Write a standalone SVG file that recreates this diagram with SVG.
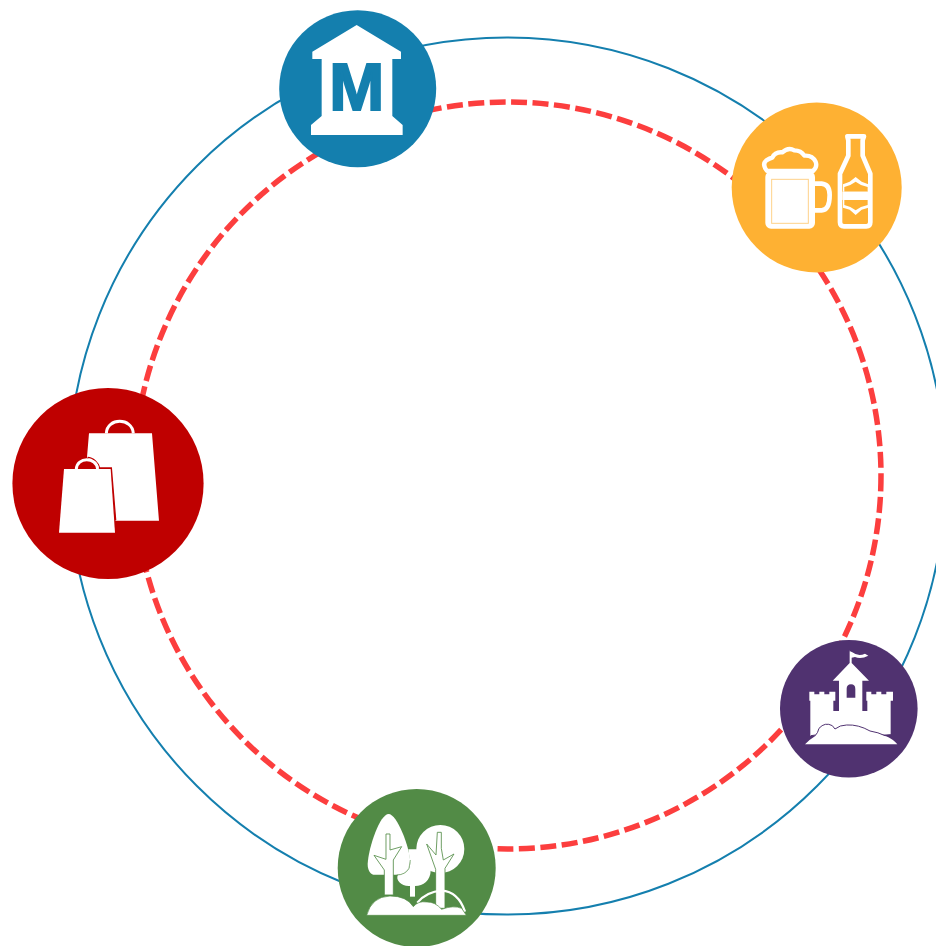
<svg xmlns="http://www.w3.org/2000/svg" width="936" height="946" viewBox="0 0 936 946">
<style>
.w{fill:#fff}
.ring{fill:none;stroke:#147fae;stroke-width:2}
.dash{fill:none;stroke:#fc3e3e;stroke-width:5.5;stroke-dasharray:16 5.5}
</style>
<rect width="936" height="946" fill="#fff"/>
<g id="connectors">
<circle class="ring" cx="507" cy="476" r="438.5"/>
<circle class="dash" cx="507.5" cy="475.5" r="373.5"/>
</g>
<g id="museum">
<circle cx="357.7" cy="88.7" r="78.5" fill="#147fae"/>
<path class="w" transform="translate(270 0) scale(.3333)" d="M260 75L393 155V177H367V348L398 375V405H123V375L155 348V177H127V155Z"/>
<text x="356.7" y="110" font-family="'Liberation Sans',Arial,sans-serif" font-weight="700" font-size="66" text-anchor="middle" fill="#147fae" stroke="#147fae" stroke-width="2">M</text>
</g>
<g id="beer">
<circle cx="816.7" cy="187.5" r="85" fill="#feb133"/>
<g transform="translate(725 95) scale(.3333)">
<rect x="128" y="236" width="135" height="158" rx="10" fill="#fff" stroke="#fff" stroke-width="14"/>
<rect x="140" y="253" width="110" height="132" fill="none" stroke="#fed28a" stroke-width="3"/>
<path d="M268 266H290Q314 268 314 300Q314 345 290 346H268" fill="none" stroke="#fff" stroke-width="14"/>
<path d="M126 228Q110 208 124 196Q134 190 142 188Q150 170 172 172Q190 156 208 166Q228 166 238 182Q262 180 272 200Q278 216 264 228Z" fill="#feb133" stroke="#fff" stroke-width="13" stroke-linejoin="round"/>
<path d="M367 124H417L413 136V182L436 236V382Q436 394 424 394H357Q345 394 345 382V236L370 182V136Z" fill="#feb133" stroke="#fff" stroke-width="14" stroke-linejoin="round"/>
<path d="M354 290V268L374 260L392 246L410 260L430 268V290Z" fill="#fff"/>
<path d="M358 290V276L376 270L392 260L408 270L428 276V290Z" fill="#feb133"/>
<rect x="352" y="290" width="80" height="25" fill="#fff"/>
<path d="M354 315V338L374 344L392 360L410 344L430 338V315Z" fill="#fff"/>
<path d="M358 315V330L376 336L392 346L408 336L428 330V315Z" fill="#feb133"/>
</g>
</g>
<g id="shopping">
<circle cx="108" cy="483.5" r="95.6" fill="#bf0000"/>
<g transform="translate(5 380) scale(.3333)">
<path class="w" d="M252 160H441L462 422H332L319 264H283L246 232Z"/>
<path d="M304 160C306 112 382 112 385 160" fill="none" stroke="#fff" stroke-width="9"/>
<path d="M248 232C264 232 282 250 284 264H319L332 420" fill="none" stroke="#bf0000" stroke-width="4"/>
<path class="w" d="M177 267H317L330 458H162Z"/>
<path d="M214 267C216 230 274 230 278 267" fill="none" stroke="#fff" stroke-width="9"/>
</g>
</g>
<g id="castle">
<circle cx="848.8" cy="708.7" r="68.8" fill="#503270"/>
<g transform="translate(775 635) scale(.3333)">
<path class="w" d="M222 47L232 52Q250 66 270 56L280 62Q258 74 240 66L230 68V84L282 137H262V228H277V197H274V170H289V178H304V170H319V178H334V170H354V197H347V298L300 300H130L106 302V197H103V170H118V178H133V170H148V178H163V170H181V197H175V228H192V137H173L224 84V47Z"/>
<path d="M215 188V162Q215 148 228 148Q241 148 241 162V188Z" fill="#503270"/>
<path class="w" d="M90 328Q105 312 122 302Q128 295 132 280Q150 260 172 272L180 282Q195 270 215 270Q250 268 285 288Q310 292 330 302Q355 312 367 328Z"/>
<path d="M108 302L122 300Q128 295 132 280Q150 260 172 272L180 282Q195 270 215 270Q250 268 285 288Q310 292 330 302L347 300" fill="none" stroke="#503270" stroke-width="3"/>
</g>
</g>
<g id="park">
<circle cx="416.7" cy="868" r="79" fill="#528b46"/>
<g transform="translate(330 780) scale(.3333)">
<path class="w" d="M176 102C200 102 240 200 241 250C240 272 225 284 205 284H130C120 282 113 270 113 252C116 200 150 102 176 102Z"/>
<path class="w" d="M204 284C195 300 215 320 240 318H255C280 318 302 300 302 272C300 240 280 210 260 208H235L241 250C240 272 225 284 204 284Z"/>
<path d="M200 285Q225 285 237 265L241 240" fill="none" stroke="#528b46" stroke-width="2"/>
<circle class="w" cx="331" cy="207" r="72"/>
<path d="M168 162H180V210L215 200L190 240V345H163V270L132 226L168 238Z" fill="#fff" stroke="#528b46" stroke-width="2.5"/>
<path d="M322 157H334V205L340 240L372 222L345 265V385H317V268L290 192L318 225Z" fill="#fff" stroke="#528b46" stroke-width="2.5"/>
<path d="M240 318V350H255V318Z" fill="#fff"/>
<path d="M262 368Q290 335 335 332Q385 335 405 395" fill="none" stroke="#fff" stroke-width="7"/>
<path d="M110 406Q125 350 180 348Q230 348 250 380Q265 362 290 366Q315 365 335 388Q370 375 395 385L409 406Z" fill="#fff" stroke="#528b46" stroke-width="2"/>
</g>
</g>
</svg>
